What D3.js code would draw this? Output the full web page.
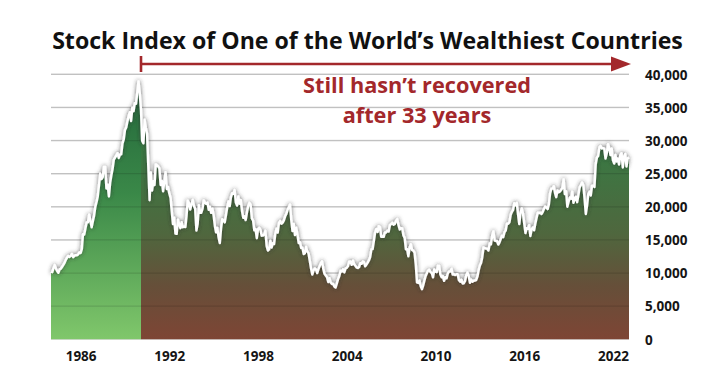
<!DOCTYPE html>
<html>
<head>
<meta charset="utf-8">
<script src="https://cdn.jsdelivr.net/npm/d3@7"></script>
<style>
html,body{margin:0;padding:0;background:#fff;}
svg{display:block;}
text{font-family:"Open Sans",Lato,sans-serif;}
</style>
</head>
<body>
<script>
// ---- DATA (monthly closes) ----
const title = "Stock Index of One of the World\u2019s Wealthiest Countries";
const annotationLines = ["Still hasn\u2019t recovered", "after 33 years"];
const firstMonth = [1984, 0];       // Jan 1984
const splitMonth = [1990, 1];       // peak-recovery boundary
const xTickYears = [1986, 1992, 1998, 2004, 2010, 2016, 2022];
const yTickValues = [0, 5000, 10000, 15000, 20000, 25000, 30000, 35000, 40000];
const closes1984_1989 = [
  10196,10120,10700,11200,10700,10300,10050,10550,10650,10950,11250,11540,
  11990,12320,12580,12430,12600,12880,12400,12600,12700,12670,12800,13110,
  13020,13640,15860,15830,16750,17650,17650,18820,17850,16910,17850,18700,
  20020,20770,21570,23270,25000,24180,24490,26030,26010,22770,23330,21560,
  23620,24800,25700,27120,27420,27770,28100,27370,27920,27920,29580,30160,
  31580,31980,32840,33710,34270,32950,34950,34430,35640,35550,37270,38916];
const closes1990_1999 = [
  37190,34590,29980,29580,33130,31940,31040,25980,20980,25190,22450,23850,
  23290,26410,26290,26110,25790,23290,23900,22340,23920,25220,22690,22980,
  22020,21340,19350,17390,18350,15950,15910,18060,17400,16770,17680,16920,
  17020,16950,18590,20920,20550,19590,20380,21030,20110,19700,16410,17420,
  20230,19110,19110,19730,20970,20640,20450,20630,19560,19990,19080,19720,
  18650,17050,16140,16810,15440,14520,16680,18120,17910,17650,18740,19870,
  20810,20120,21410,22040,21960,22530,20690,20170,21560,20470,21020,19360,
  18330,18560,18000,19150,20070,20600,20330,18230,17890,16460,16630,15260,
  16630,16830,16530,15640,15670,15830,16380,14110,13400,13560,14880,13840,
  14500,14370,15840,16700,16110,17530,17860,17440,17610,17940,18560,18930];
const closes2000_2009 = [
  19540,19960,20340,17970,16330,17410,15730,16860,15750,14540,14650,13790,
  13840,12880,13000,13930,13260,12970,11860,10710,9770,10370,10700,10540,
  9990,10590,11020,11490,11760,10620,9880,9620,9380,8640,9220,8580,
  8340,8360,7970,7830,8420,9080,9560,10340,10220,10560,10100,10680,
  10780,11040,11720,11760,11240,11860,11330,11080,10820,10770,10900,11490,
  11390,11740,11670,11010,11280,11580,11900,12410,13570,13610,14870,16110,
  16650,16210,17060,16910,15470,15510,15460,16140,16130,16400,16270,17230,
  17380,17600,17290,17400,17880,18140,17250,16570,16790,16740,15680,15310,
  13590,13600,12530,13850,14340,13480,13380,13070,11260,8580,8510,8860,
  7990,7570,8110,8830,9520,9960,10360,10490,10130,10030,9350,10550];
const closes2010_2023 = [
  10200,10130,11090,11060,9770,9380,9540,8820,9370,9200,9940,10230,
  10240,10620,9760,9850,9690,9820,9830,8960,8700,8990,8430,8460,
  8800,9720,10080,9520,8540,9010,8700,8840,8870,8930,9450,10400,
  11140,11560,12400,13860,13770,13680,13670,13390,14460,14330,15660,16290,
  14910,14840,14830,14300,14630,15160,15620,15420,16170,16410,17460,17450,
  17670,18800,19210,19520,20560,20240,20590,18890,17390,19080,19750,19030,
  17520,16030,16760,16670,17230,15580,16570,16890,16450,17430,18310,19110,
  19040,19120,18910,19200,19650,20030,19930,19650,20360,22010,22720,22760,
  23100,22070,21450,22470,22200,22300,22550,22870,24120,21920,22350,20010,
  20770,21390,21210,22260,20600,21280,21520,20700,21760,22930,23290,23660,
  23210,21140,18920,20190,21880,22290,21710,23140,23190,22980,26430,27440,
  27660,28970,29180,28810,28860,28790,27280,28090,29450,28890,27820,28790,
  27000,26530,27820,26850,27280,26390,27800,28090,25940,27590,27970,26090,
  27330,27450];

const allCloses = [...closes1984_1989, ...closes1990_1999, ...closes2000_2009, ...closes2010_2023];
const data = allCloses.map((v, i) => ({date: new Date(firstMonth[0], firstMonth[1] + i, 1), value: v}));

// ---- LAYOUT ----
const W = 711, H = 369;
const plot = {left: 51, right: 629, top: 74.3, bottom: 339.3};

const svg = d3.select("body").append("svg").attr("width", W).attr("height", H);
const defs = svg.append("defs");

const x = d3.scaleTime()
  .domain([data[0].date, data[data.length - 1].date])
  .range([plot.left, plot.right]);
const y = d3.scaleLinear().domain([0, 40000]).range([plot.bottom, plot.top]);

const splitX = x(new Date(splitMonth[0], splitMonth[1], 1));

// gradients
const gL = defs.append("linearGradient").attr("id", "gLeft")
  .attr("gradientUnits", "userSpaceOnUse").attr("x1", 0).attr("x2", 0)
  .attr("y1", plot.top).attr("y2", plot.bottom);
[[0, "#21643a"], [0.45, "#3a8848"], [1, "#80c76b"]].forEach(s =>
  gL.append("stop").attr("offset", s[0]).attr("stop-color", s[1]));
const gR = defs.append("linearGradient").attr("id", "gRight")
  .attr("gradientUnits", "userSpaceOnUse").attr("x1", 0).attr("x2", 0)
  .attr("y1", plot.top).attr("y2", plot.bottom);
[[0, "#2c7a3f"], [0.3, "#3a7843"], [0.6, "#4f673e"], [0.8, "#664f39"], [1, "#7e4535"]].forEach(s =>
  gR.append("stop").attr("offset", s[0]).attr("stop-color", s[1]));

defs.append("clipPath").attr("id", "cLeft").append("rect")
  .attr("x", plot.left).attr("y", 0).attr("width", splitX - plot.left).attr("height", H);
defs.append("clipPath").attr("id", "cRight").append("rect")
  .attr("x", splitX).attr("y", 0).attr("width", plot.right - splitX).attr("height", H);

const f = defs.append("filter").attr("id", "glow")
  .attr("x", "-5%").attr("y", "-10%").attr("width", "110%").attr("height", "120%");
f.append("feDropShadow").attr("dx", 0).attr("dy", 0).attr("stdDeviation", 2)
  .attr("flood-color", "#333").attr("flood-opacity", 0.8);

// grid (light, under everything)
svg.append("g").selectAll("line").data(yTickValues).join("line")
  .attr("x1", plot.left).attr("x2", plot.right)
  .attr("y1", d => y(d)).attr("y2", d => y(d))
  .attr("stroke", "#dcdcdc").attr("stroke-width", 1.5);

// areas
const area = d3.area().x(d => x(d.date)).y0(y(0)).y1(d => y(d.value));
svg.append("path").datum(data).attr("d", area).attr("fill", "url(#gLeft)").attr("clip-path", "url(#cLeft)");
svg.append("path").datum(data).attr("d", area).attr("fill", "url(#gRight)").attr("clip-path", "url(#cRight)");

// grid lines over area (subtle)
svg.append("g").selectAll("line").data(yTickValues.slice(1)).join("line")
  .attr("x1", plot.left).attr("x2", plot.right)
  .attr("y1", d => y(d)).attr("y2", d => y(d))
  .attr("stroke", "rgba(0,0,0,0.12)").attr("stroke-width", 1.3);

// line
const line = d3.line().x(d => x(d.date)).y(d => y(d.value));
svg.append("path").datum(data).attr("d", line)
  .attr("fill", "none").attr("stroke", "#fff").attr("stroke-width", 2.4)
  .attr("stroke-linejoin", "round").attr("filter", "url(#glow)");

// x axis
const xAxis = d3.axisBottom(x)
  .tickValues(xTickYears.map(yv => new Date(yv, 0, 1)))
  .tickFormat(d3.timeFormat("%Y")).tickSize(0).tickPadding(0);
const gx = svg.append("g").attr("transform", `translate(0,${plot.bottom})`).call(xAxis);
gx.select(".domain").remove();
gx.selectAll("text").attr("y", 21.5).attr("dy", null)
  .attr("font-family", "'Open Sans', sans-serif").attr("font-weight", 700)
  .attr("font-size", 13.5).attr("fill", "#151515");

// y axis
const yAxis = d3.axisRight(y).tickValues(yTickValues).tickFormat(d3.format(",")).tickSize(0).tickPadding(0);
const gy = svg.append("g").attr("transform", `translate(645,0)`).call(yAxis);
gy.select(".domain").remove();
gy.selectAll("text").attr("x", 0).attr("dy", "0.35em")
  .attr("font-family", "'Open Sans', sans-serif").attr("font-weight", 700)
  .attr("font-size", 13.5).attr("fill", "#151515").attr("text-anchor", "start");

// fit a text to a target width by adjusting font size
function fit(sel, target) {
  const w = sel.node().getComputedTextLength();
  const fs = parseFloat(sel.attr("font-size"));
  sel.attr("font-size", (fs * target / w).toFixed(2));
  return fs * target / w;
}

// title
const t = svg.append("text").attr("x", 367.5).attr("y", 49).attr("text-anchor", "middle")
  .attr("font-weight", 700).attr("font-size", 22).attr("fill", "#111").text(title);
fit(t, 631);

// arrow
const red = "#a3282b";
const arrowY = 64;
svg.append("line").attr("x1", splitX).attr("x2", plot.right - 12).attr("y1", arrowY).attr("y2", arrowY)
  .attr("stroke", red).attr("stroke-width", 2.6);
svg.append("line").attr("x1", splitX).attr("x2", splitX).attr("y1", arrowY - 8).attr("y2", arrowY + 8)
  .attr("stroke", red).attr("stroke-width", 2.6);
svg.append("path")
  .attr("d", `M${plot.right + 2},${arrowY} L${plot.right - 18},${arrowY - 7.5} L${plot.right - 18},${arrowY + 7.5} Z`)
  .attr("fill", red);

// annotation: two separate lines, spaced so their text boxes do not overlap
const annFont = 20;
const ann = svg.append("g").selectAll("text").data(annotationLines).join("text")
  .attr("x", 417).attr("text-anchor", "middle")
  .attr("font-weight", 700).attr("font-size", annFont).attr("fill", red).text(d => d);
const w1 = ann.nodes()[0].getComputedTextLength();
const fsA = annFont * 228 / w1;
ann.attr("font-size", fsA.toFixed(2));
ann.attr("y", (d, i) => 93 + i * Math.ceil(fsA * 1.38));
</script>
</body>
</html>
